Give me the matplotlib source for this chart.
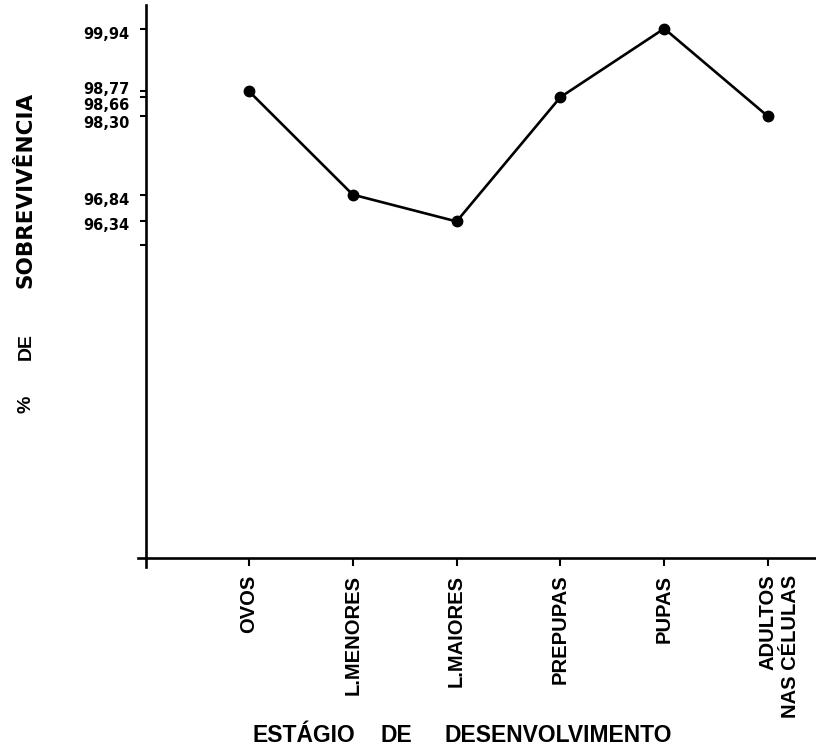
import matplotlib
matplotlib.use("Agg")
import matplotlib.pyplot as plt
import matplotlib.transforms as mtransforms

categories = ["OVOS", "L.MENORES", "L.MAIORES", "PREPUPAS", "PUPAS", "ADULTOS\nNAS CÉLULAS"]
survival = [98.77, 96.84, 96.34, 98.66, 99.94, 98.30]
ytick_values = [99.94, 98.77, 98.66, 98.30, 96.84, 96.34]
ytick_labels = ["99,94", "98,77", "98,66", "98,30", "96,84", "96,34"]
extra_tick = [95.9]

FONT = "Liberation Sans"
plt.rcParams["font.family"] = [FONT, "DejaVu Sans"]

W, H = 816, 748
fig = plt.figure(figsize=(W / 100, H / 100), dpi=100)
ax = fig.add_axes([138 / W, 1 - 567 / H, (816 - 138) / W, (567 - 5) / H])

x = list(range(len(categories)))
ax.plot(x, survival, color="black", lw=1.9, marker="o", ms=7.5,
        markerfacecolor="black", markeredgecolor="black", zorder=3)

ax.set_xlim(-1.069, 5.462)
ax.set_ylim(89.89, 100.38)

for s in ["top", "right"]:
    ax.spines[s].set_visible(False)
ax.spines["left"].set_position(("data", -0.99))
ax.spines["bottom"].set_position(("data", 90.06))
ax.spines["left"].set_linewidth(1.9)
ax.spines["bottom"].set_linewidth(1.9)

ax.set_yticks(ytick_values + extra_tick)
ax.set_yticklabels(ytick_labels + [""])
ax.tick_params(axis="y", direction="out", length=4, width=1.5, pad=8)
for lab in ax.get_yticklabels():
    lab.set_fontweight("bold")
    lab.set_fontfamily(["DejaVu Sans"])
    lab.set_fontsize(10.5)

# hand-lettered labels sit slightly apart from their ticks in the original
offsets = {"99,94": -4, "98,77": 3, "98,66": -7, "98,30": -6, "96,84": -4, "96,34": -3}
for lab in ax.get_yticklabels():
    dy = offsets.get(lab.get_text(), 0)
    if dy:
        lab.set_transform(lab.get_transform() +
                          mtransforms.ScaledTranslation(0, dy / 100, fig.dpi_scale_trans))

ax.set_xticks(x)
ax.set_xticklabels(categories, rotation=90, fontsize=14.5, fontweight="bold")
ax.tick_params(axis="x", direction="out", length=6, width=1.5, pad=6)
for lab in ax.get_xticklabels():
    lab.set_multialignment("right")
    if "\n" in lab.get_text():
        lab.set_transform(lab.get_transform() +
                          mtransforms.ScaledTranslation(11 / 100, 0, fig.dpi_scale_trans))

ty = 1 - 735 / H
fig.text(252 / W, ty, "ESTÁGIO", fontsize=16.5, fontweight="bold", ha="left", va="center")
fig.text(396 / W, ty, "DE", fontsize=16.5, fontweight="bold", ha="center", va="center")
fig.text(445 / W, ty, "DESENVOLVIMENTO", fontsize=16.5, fontweight="bold",
         ha="left", va="center")

fig.text(26 / W, 1 - 404 / H, "%", fontsize=14, fontweight="bold",
         rotation=90, ha="center", va="center")
fig.text(26 / W, 1 - 346 / H, "DE", fontsize=14, fontweight="bold",
         rotation=90, ha="center", va="center")
fig.text(26 / W, 1 - 190 / H, "SOBREVIVÊNCIA", fontsize=15.5, fontweight="bold",
         family=["DejaVu Sans"], rotation=90, ha="center", va="center")

fig.savefig("out.png", dpi=100, facecolor="white")
